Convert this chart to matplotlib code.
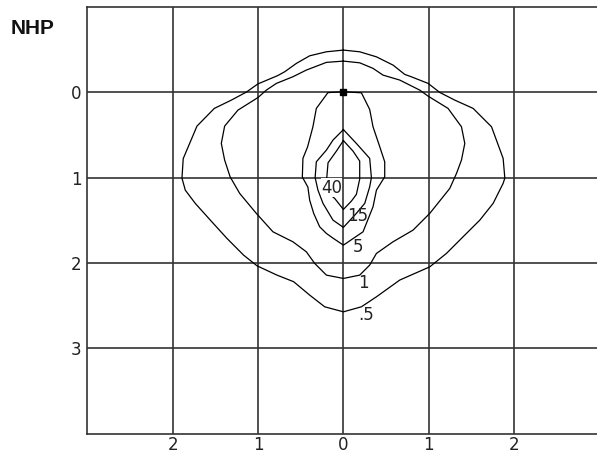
import matplotlib
matplotlib.use("Agg")
import matplotlib.pyplot as plt

# ---- data (x in horizontal units, y = depth, positive downward) ----
x_ticks = [-2, -1, 0, 1, 2]
x_tick_labels = ["2", "1", "0", "1", "2"]
y_ticks = [0, 1, 2, 3]
y_tick_labels = ["0", "1", "2", "3"]

c05_x = [0, -0.199, -0.395, -0.551, -0.688, -0.770, -1.001, -1.137, -1.313, -1.512, -1.715, -1.876, -1.891,
         -1.852, -1.735, -1.559, -1.364, -1.169, -1.012, -0.778, -0.583, -0.395, -0.219, 0,
         0.211, 0.387, 0.660, 1.012, 1.207, 1.402, 1.598, 1.754, 1.871, 1.891, 1.871, 1.735, 1.520,
         1.305, 1.129, 0.992, 0.797, 0.719, 0.582, 0.387, 0.191, 0]
c05_y = [-0.492, -0.472, -0.425, -0.336, -0.238, -0.193, -0.096, 0.0, 0.094, 0.191, 0.398, 0.778, 1.007,
         1.148, 1.303, 1.499, 1.713, 1.909, 2.034, 2.143, 2.220, 2.377, 2.514, 2.573,
         2.514, 2.397, 2.201, 2.046, 1.889, 1.694, 1.499, 1.303, 1.069, 1.007, 0.776, 0.406, 0.191,
         0.094, 0.004, -0.102, -0.179, -0.207, -0.316, -0.413, -0.472, -0.492]

c1_x = [0, -0.199, -0.434, -0.591, -0.785, -0.903, -1.001, -1.235, -1.391, -1.430, -1.391, -1.327, -1.215,
        -1.020, -0.825, -0.591, -0.434, -0.336, -0.199, 0,
        0.191, 0.308, 0.387, 0.581, 0.816, 1.012, 1.246, 1.325, 1.383, 1.422, 1.383, 1.226, 0.992,
        0.895, 0.660, 0.464, 0.347, 0.191, 0]
c1_y = [-0.363, -0.348, -0.258, -0.180, -0.102, -0.023, 0.064, 0.211, 0.398, 0.601, 0.796, 0.992, 1.186,
        1.420, 1.636, 1.753, 1.870, 2.006, 2.143, 2.182,
        2.143, 2.026, 1.889, 1.753, 1.616, 1.420, 1.128, 0.952, 0.796, 0.601, 0.406, 0.191, 0.047,
        -0.023, -0.141, -0.199, -0.278, -0.343, -0.363]

c5_x = [0, -0.181, -0.317, -0.357, -0.419, -0.474, -0.481, -0.416, -0.395, -0.348, -0.278, -0.199, -0.122, 0,
        0.230, 0.347, 0.387, 0.484, 0.484, 0.426, 0.347, 0.308, 0.211, 0]
c5_y = [-0.004, 0.006, 0.191, 0.406, 0.640, 0.776, 0.995, 1.112, 1.265, 1.420, 1.577, 1.655, 1.710, 1.792,
        1.636, 1.343, 1.148, 0.992, 0.816, 0.640, 0.406, 0.203, 0.008, -0.004]

c15_x = [0, -0.122, -0.199, -0.317, -0.331, -0.298, -0.239, -0.122, 0,
         0.152, 0.250, 0.308, 0.328, 0.308, 0.152, 0]
c15_y = [0.439, 0.562, 0.679, 0.816, 1.001, 1.148, 1.303, 1.499, 1.584,
         1.420, 1.303, 1.109, 1.001, 0.776, 0.601, 0.439]

c40_x = [0, -0.082, -0.180, -0.195, -0.196, -0.149, -0.102, 0,
         0.094, 0.152, 0.191, 0.191, 0.113, 0]
c40_y = [0.568, 0.691, 0.828, 1.007, 1.089, 1.206, 1.245, 1.374,
         1.276, 1.198, 1.019, 0.808, 0.691, 0.568]

contour_labels = ["40", "15", "5", "1", ".5"]
label_x = [-0.14, 0.17, 0.17, 0.23, 0.27]
label_y = [1.12, 1.45, 1.81, 2.24, 2.61]
label_masks = [True, False, False, False, False]

source_x = [0]
source_y = [0]

# ---- figure ----
fig = plt.figure(figsize=(5.97, 4.53), dpi=100)
ax = fig.add_axes([0.1462, 0.0426, 0.858, 0.9426])
ax.set_xlim(-3, 3)
ax.set_ylim(4, -1)

grid_col = "#333333"
for xv in x_ticks:
    ax.axvline(xv, color=grid_col, lw=1.2, zorder=1)
for yv in y_ticks:
    ax.axhline(yv, color=grid_col, lw=1.2, zorder=1)

for cx, cy in [(c05_x, c05_y), (c1_x, c1_y), (c5_x, c5_y), (c15_x, c15_y), (c40_x, c40_y)]:
    ax.plot(cx, cy, color="black", lw=0.9, zorder=2)

ax.plot(source_x, source_y, marker="s", color="black", markersize=4, zorder=3)

for t, lx, ly, m in zip(contour_labels, label_x, label_y, label_masks):
    kw = {}
    if m:
        kw["bbox"] = dict(facecolor="white", edgecolor="none", pad=0.2)
    ax.text(lx, ly, t, fontsize=12, family="DejaVu Sans", color="#222222", ha="center", va="center",
            zorder=4, **kw)

ax.set_xticks(x_ticks)
ax.set_xticklabels(x_tick_labels)
ax.set_yticks(y_ticks)
ax.set_yticklabels(y_tick_labels)
ax.tick_params(length=0, labelsize=12, labelcolor="#222222")
ax.tick_params(axis="x", pad=2)
ax.tick_params(axis="y", pad=4)

for s in ["left", "top", "bottom"]:
    ax.spines[s].set_color(grid_col)
    ax.spines[s].set_linewidth(1.2)
ax.spines["right"].set_visible(False)

fig.text(0.0553, 0.937, "NHP", fontsize=15, fontweight="bold", family="Liberation Sans",
         ha="center", va="center", color="#111111")

fig.savefig("out.png", dpi=100)
